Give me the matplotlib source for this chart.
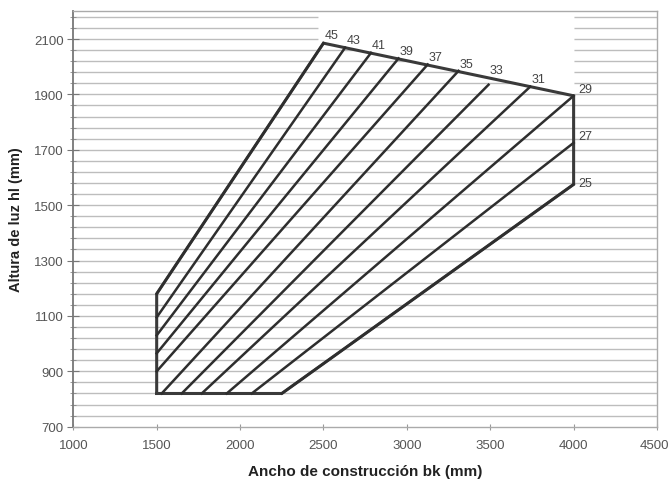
import matplotlib.pyplot as plt
import matplotlib.transforms as mtransforms
import numpy as np

plt.rcParams['font.family'] = ['Liberation Sans', 'DejaVu Sans']

# lines of the chart (value at the end of each line)
labels = [45, 43, 41, 39, 37, 35, 33, 31, 29, 27, 25]
start_x = [1500, 1500, 1500, 1500, 1500, 1530, 1650, 1770, 1920, 2070, 2250]
start_y = [1180, 1095, 1030, 965, 900, 820, 820, 820, 820, 820, 820]
end_x = [2500, 2630, 2785, 2950, 3125, 3310, 3490, 3740, 4000, 4000, 4000]
end_y = [2085, 2069, 2050, 2030, 2008, 1985, 1935, 1928, 1895, 1725, 1575]

# outline of the area
outline_x = [1500, 2250, 4000, 4000, 2500, 1500, 1500]
outline_y = [820, 820, 1575, 1895, 2085, 1180, 820]

fig = plt.figure(figsize=(6.7, 4.85), dpi=100)
ax = fig.add_axes([0.1094, 0.1181, 0.8712, 0.8565])

ax.set_xlim(1000, 4500)
ax.set_ylim(700, 2200)

# horizontal grid every 40 mm
for yy in np.arange(740, 2200, 40):
    ax.axhline(yy, color='#bdbdbd', lw=1.0, zorder=1)

# blank area above the top edge
ax.fill([2470, 2470, 4005, 4005, 2500], [2075, 2194, 2194, 1895, 2085],
        color='white', zorder=2, lw=0)

ax.plot(outline_x, outline_y, color='#3a3a3a', lw=2.2, zorder=3,
        solid_joinstyle='miter')
for i in range(len(labels)):
    ax.plot([start_x[i], end_x[i]], [start_y[i], end_y[i]],
            color='#2e2e2e', lw=1.8, zorder=3)
    if end_x[i] >= 4000:
        ax.annotate(str(labels[i]), (end_x[i], end_y[i]),
                    xytext=(5, 7 if labels[i] != 25 else 1),
                    textcoords='offset pixels', ha='left', va='center',
                    fontsize=9, color='#444444')
    else:
        # label sits just above the top edge
        edge_y = np.interp(end_x[i], [2500, 4000], [2085, 1895])
        ax.annotate(str(labels[i]), (end_x[i], edge_y),
                    xytext=(8, 8), textcoords='offset pixels',
                    ha='center', va='center', fontsize=9, color='#444444')

ax.set_xticks(np.arange(1000, 4501, 500))
ax.set_yticks(np.arange(700, 2101, 200))
ax.set_yticks(np.arange(700, 2200, 40), minor=True)
ax.tick_params(axis='y', which='major', direction='inout', length=8,
               color='#777777', labelsize=9.5, labelcolor='#555555', pad=3)
ax.tick_params(axis='y', which='minor', direction='inout', length=4,
               color='#888888')
ax.tick_params(axis='x', which='major', direction='inout', length=5,
               color='#999999', labelsize=9.5, labelcolor='#555555', pad=6)

# keep the last x label inside the figure
last = ax.get_xticklabels()[-1]
last.set_transform(last.get_transform() +
                   mtransforms.ScaledTranslation(-0.03, 0, fig.dpi_scale_trans))

for side in ['top', 'right', 'bottom']:
    ax.spines[side].set_color('#aaaaaa')
    ax.spines[side].set_linewidth(1.0)
ax.spines['left'].set_color('#777777')
ax.spines['left'].set_linewidth(1.3)

ax.set_xlabel('Ancho de construcción bk (mm)', fontsize=11, fontweight='bold',
              color='#222222', labelpad=10)
ax.set_ylabel('Altura de luz hl (mm)', fontsize=10.5, fontweight='bold',
              color='#222222', labelpad=8)

plt.savefig('out.png', dpi=100)
